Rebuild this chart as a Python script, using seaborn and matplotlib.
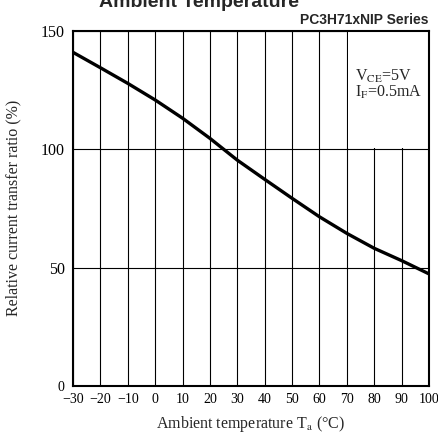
import matplotlib
matplotlib.use("Agg")
import matplotlib.pyplot as plt
from matplotlib.patches import Rectangle
import seaborn as sns
import pandas as pd

# Werte
temperature = [-30, -20, -10, 0, 10, 20, 30, 40, 50, 60, 70, 80, 90, 100]
ctr_ratio = [140.8, 134.3, 127.7, 120.7, 113.0, 104.5, 95.3, 87.2, 79.2, 71.4, 64.4, 58.1, 52.9, 47.3]
x_ticks = list(range(-30, 101, 10))
x_tick_labels = [str(t).replace("-", "\u2212") for t in x_ticks]
y_ticks = [0, 50, 100, 150]

df = pd.DataFrame({"Ta": temperature, "ratio": ctr_ratio})

sns.set_theme(style="white")
plt.rcParams["font.family"] = ["Liberation Serif", "DejaVu Serif"]
plt.rcParams["mathtext.fontset"] = "stix"

fig = plt.figure(figsize=(4.39, 4.36), dpi=100)
ax = fig.add_axes([0.1663, 0.1147, 0.8109, 0.8153])

sns.lineplot(data=df, x="Ta", y="ratio", color="black", linewidth=2.4, ax=ax, zorder=3)

ax.set_xlim(-30, 100)
ax.set_ylim(0, 150)
ax.set_xticks(x_ticks)
ax.set_xticklabels(x_tick_labels)
ax.set_yticks(y_ticks)
ax.tick_params(axis="both", length=0, colors="black")
ax.tick_params(axis="x", labelsize=10, pad=5)
ax.tick_params(axis="y", labelsize=11.5, pad=6)
ax.get_yticklabels()[0].set_fontsize(10)
ax.grid(True, color="black", linewidth=0.8)
ax.set_axisbelow(True)
for s in ax.spines.values():
    s.set_color("black")
    s.set_linewidth(1.5)

# weisses Feld fuer die Bedingungen
ax.add_patch(Rectangle((70.6, 100.6), 29.4, 49.4, facecolor="white", edgecolor="none", zorder=1))
ax.text(73, 128.8, "V$_{\\mathrm{CE}}$=5V", fontsize=11.5, zorder=4)
ax.text(73, 121.8, "I$_{\\mathrm{F}}$=0.5mA", fontsize=11.5, zorder=4)

ax.set_xlabel("Ambient temperature T$_{\\mathrm{a}}$ (\u00b0C)", fontsize=11.5, labelpad=6)
ax.set_ylabel("Relative current transfer ratio (%)", fontsize=11.5, labelpad=14)

fig.text(0.9772, 0.937, "PC3H71xNIP Series", ha="right", va="bottom",
         fontsize=10, fontweight="bold", family=["Liberation Sans", "DejaVu Sans"])
fig.text(0.225, 0.983, "Ambient Temperature", ha="left", va="baseline",
         fontsize=14, fontweight="bold", family=["Liberation Sans", "DejaVu Sans"])

fig.savefig("out.png", dpi=100)
